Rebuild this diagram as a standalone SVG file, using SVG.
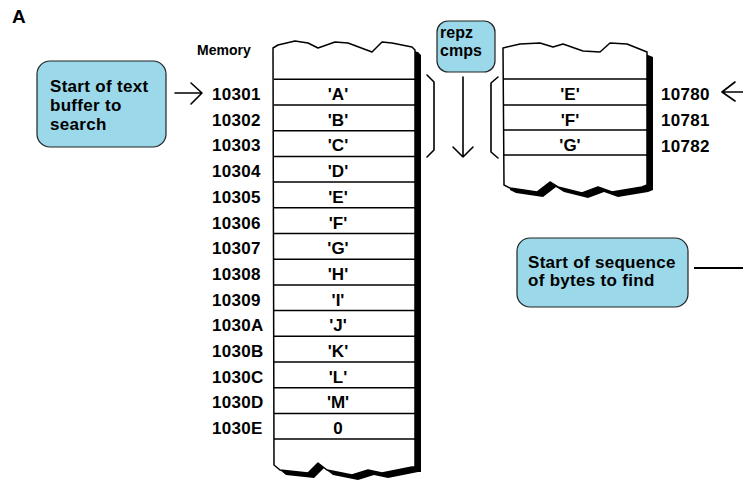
<svg xmlns="http://www.w3.org/2000/svg" width="743" height="483" viewBox="0 0 743 483">
<style>
.t{font-family:"Liberation Sans",Arial,sans-serif;font-weight:bold;fill:#000}
.lab{font-size:17px;letter-spacing:0.3px}
.addr{font-size:17px;letter-spacing:0.3px}
.cell{font-size:17px;text-anchor:middle}
.box{fill:#9bd8e9;stroke:#222;stroke-width:1.2}
.col{fill:#fff;stroke:#000;stroke-width:1.5;stroke-linejoin:round}
.shadow{fill:#000}
.row{stroke:#000;stroke-width:1.5}
.ln{fill:none;stroke:#000;stroke-width:1.6;stroke-linecap:round;stroke-linejoin:round}
</style>
<rect width="743" height="483" fill="#fff"/>
<text class="t" x="12" y="23" font-size="19">A</text>
<text class="t" x="197" y="55" font-size="14">Memory</text>

<g id="memory-left">
<path class="shadow" transform="translate(6,5)" d="M273,48 L278,45 L295,41 L308,43 L318,48 L335,42 L348,43 L372,52 L382,42 L392,43 L412,47 L415,50 L415,467 L412,467 L382,473 L368,470 L352,475 L327,470 L318,463 L308,473 L280,470 L274,465 Z"/>
<path class="col" d="M273,48 L278,45 L295,41 L308,43 L318,48 L335,42 L348,43 L372,52 L382,42 L392,43 L412,47 L415,50 L415,467 L412,467 L382,473 L368,470 L352,475 L327,470 L318,463 L308,473 L280,470 L274,465 Z"/>
<g class="row">
<line x1="274" y1="79.3" x2="415" y2="79.3"/>
<line x1="274" y1="105" x2="415" y2="105"/>
<line x1="274" y1="130.7" x2="415" y2="130.7"/>
<line x1="274" y1="156.4" x2="415" y2="156.4"/>
<line x1="274" y1="182.1" x2="415" y2="182.1"/>
<line x1="274" y1="207.8" x2="415" y2="207.8"/>
<line x1="274" y1="233.5" x2="415" y2="233.5"/>
<line x1="274" y1="259.2" x2="415" y2="259.2"/>
<line x1="274" y1="284.9" x2="415" y2="284.9"/>
<line x1="274" y1="310.6" x2="415" y2="310.6"/>
<line x1="274" y1="336.3" x2="415" y2="336.3"/>
<line x1="274" y1="362" x2="415" y2="362"/>
<line x1="274" y1="387.7" x2="415" y2="387.7"/>
<line x1="274" y1="413.4" x2="415" y2="413.4"/>
<line x1="274" y1="439.1" x2="415" y2="439.1"/>
</g>
<g class="t cell">
<text x="338" y="100">'A'</text>
<text x="338" y="125.7">'B'</text>
<text x="338" y="151.4">'C'</text>
<text x="338" y="177.1">'D'</text>
<text x="338" y="202.8">'E'</text>
<text x="338" y="228.5">'F'</text>
<text x="338" y="254.2">'G'</text>
<text x="338" y="279.9">'H'</text>
<text x="338" y="305.6">'I'</text>
<text x="338" y="331.3">'J'</text>
<text x="338" y="357">'K'</text>
<text x="338" y="382.7">'L'</text>
<text x="338" y="408.4">'M'</text>
<text x="338" y="434.1">0</text>
</g>
<g class="t addr">
<text x="212" y="100">10301</text>
<text x="212" y="125.7">10302</text>
<text x="212" y="151.4">10303</text>
<text x="212" y="177.1">10304</text>
<text x="212" y="202.8">10305</text>
<text x="212" y="228.5">10306</text>
<text x="212" y="254.2">10307</text>
<text x="212" y="279.9">10308</text>
<text x="212" y="305.6">10309</text>
<text x="212" y="331.3">1030A</text>
<text x="212" y="357">1030B</text>
<text x="212" y="382.7">1030C</text>
<text x="212" y="408.4">1030D</text>
<text x="212" y="434.1">1030E</text>
</g>
</g>

<g id="memory-right">
<path class="shadow" transform="translate(6,5)" d="M503,48 L520,44 L540,43 L553,47 L563,44 L583,51 L600,52 L610,43 L627,44 L647,52 L647,185 L642,187 L612,192 L598,187 L582,193 L558,187 L550,182 L537,192 L510,188 L504,185 Z"/>
<path class="col" d="M503,48 L520,44 L540,43 L553,47 L563,44 L583,51 L600,52 L610,43 L627,44 L647,52 L647,185 L642,187 L612,192 L598,187 L582,193 L558,187 L550,182 L537,192 L510,188 L504,185 Z"/>
<g class="row">
<line x1="503" y1="79" x2="647" y2="79"/>
<line x1="503" y1="105" x2="647" y2="105"/>
<line x1="503" y1="130" x2="647" y2="130"/>
<line x1="503" y1="155" x2="647" y2="155"/>
</g>
<g class="t cell">
<text x="570" y="100">'E'</text>
<text x="570" y="126">'F'</text>
<text x="570" y="151">'G'</text>
</g>
<g class="t addr">
<text x="661" y="100">10780</text>
<text x="661" y="126">10781</text>
<text x="661" y="152">10782</text>
</g>
</g>

<g id="callout-text">
<rect class="box" x="37" y="61" width="129" height="86" rx="13"/>
<text class="t lab" x="50" y="92">Start of text</text>
<text class="t lab" x="50" y="111">buffer to</text>
<text class="t lab" x="50" y="130">search</text>
</g>

<g id="callout-seq">
<rect class="box" x="517" y="238" width="171" height="69" rx="13"/>
<text class="t lab" x="528" y="268">Start of sequence</text>
<text class="t lab" x="528" y="286">of bytes to find</text>
</g>

<g id="repz-cmps">
<rect class="box" x="437" y="21" width="58" height="51" rx="11"/>
<text class="t" x="440" y="38" font-size="16">repz</text>
<text class="t" x="440" y="56" font-size="16">cmps</text>
</g>

<g id="connectors">
<path class="ln" d="M175,93 L202,93 M191,83 L202,93 L191,104"/>
<path class="ln" d="M743,92 L722,92 M735,82 L722,92 L735,101"/>
<path class="ln" d="M427,75 L434,82 L434,150 L427,157"/>
<path class="ln" d="M498,77 L491,83 L491,152 L498,158"/>
<path class="ln" d="M463,77 L463,157 M453,147 L463,157 L473,147"/>
<line x1="694" y1="268" x2="743" y2="268" stroke="#000" stroke-width="2"/>
</g>
</svg>
